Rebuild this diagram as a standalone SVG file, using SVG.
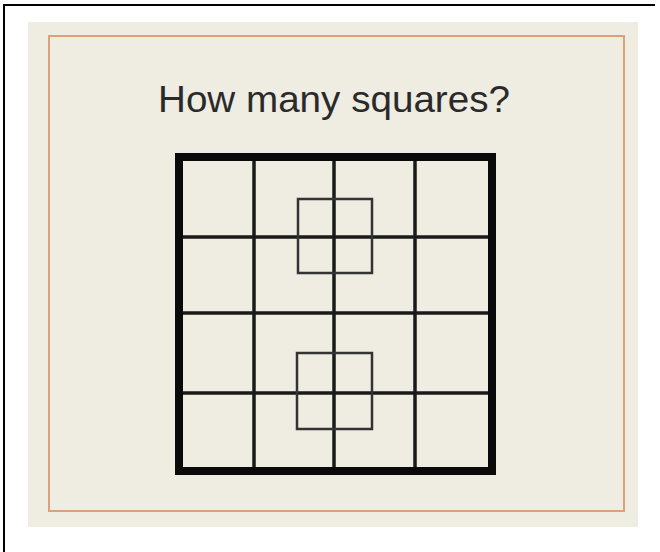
<svg xmlns="http://www.w3.org/2000/svg" width="660" height="552" viewBox="0 0 660 552">
  <style>
    .frame { fill: none; stroke: #000; stroke-width: 2; }
    .panel { fill: #efece2; }
    .trim { fill: none; stroke: #d9a27a; stroke-width: 2; }
    .title { font-family: "Liberation Sans", Arial, sans-serif; font-size: 36px; fill: #2a2a2a; }
    .outer { fill: none; stroke: #0a0a0a; stroke-width: 8; }
    .inner { stroke: #1a1a1a; stroke-width: 3.5; fill: none; }
    .small { fill: none; stroke: #333; stroke-width: 2.5; }
  </style>
  <rect width="660" height="552" fill="#fff"/>
  <path class="frame" d="M4,553 V5 H655"/>
  <g id="panel">
    <rect class="panel" x="28" y="22" width="610" height="505"/>
    <rect class="trim" x="49" y="36" width="575" height="475"/>
  </g>
  <g id="title">
    <text class="title" x="158" y="112" textLength="352" lengthAdjust="spacingAndGlyphs">How many squares?</text>
  </g>
  <g id="grid">
    <g id="grid-lines">
      <path class="inner" d="M254,157 V471 M334,157 V471 M415,157 V471 M179,237 H492 M179,313 H492 M179,393 H492"/>
    </g>
    <rect id="grid-border" class="outer" x="179" y="157" width="313" height="314"/>
  </g>
  <g id="square-top">
    <rect class="small" x="298" y="199" width="74" height="74"/>
  </g>
  <g id="square-bottom">
    <rect class="small" x="297" y="353" width="75" height="76"/>
  </g>
</svg>
